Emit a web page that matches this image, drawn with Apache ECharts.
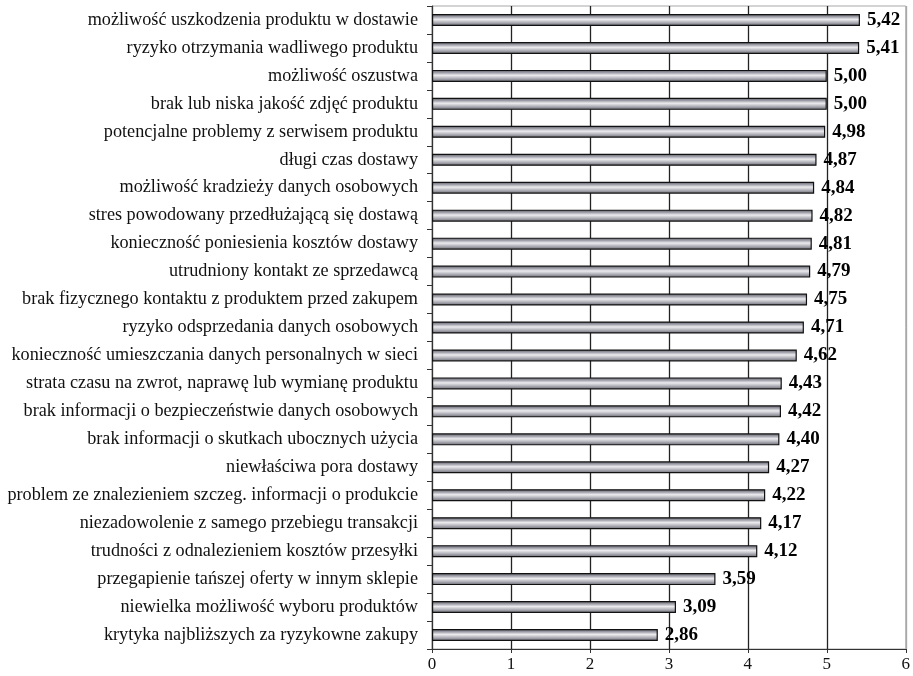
<!DOCTYPE html>
<html><head><meta charset="utf-8">
<script src="https://cdn.jsdelivr.net/npm/echarts@6/dist/echarts.min.js"></script>
<style>html,body{margin:0;padding:0;background:#fff}#c{width:913px;height:676px}</style>
</head><body><div id="c"></div>
<script>
const categories = [
  "możliwość uszkodzenia produktu w dostawie",
  "ryzyko otrzymania wadliwego produktu",
  "możliwość oszustwa",
  "brak lub niska jakość zdjęć produktu",
  "potencjalne problemy z serwisem produktu",
  "długi czas dostawy",
  "możliwość kradzieży danych osobowych",
  "stres powodowany przedłużającą się dostawą",
  "konieczność poniesienia kosztów dostawy",
  "utrudniony kontakt ze sprzedawcą",
  "brak fizycznego kontaktu z produktem przed zakupem",
  "ryzyko odsprzedania danych osobowych",
  "konieczność umieszczania danych personalnych w sieci",
  "strata czasu na zwrot, naprawę lub wymianę produktu",
  "brak informacji o bezpieczeństwie danych osobowych",
  "brak informacji o skutkach ubocznych użycia",
  "niewłaściwa pora dostawy",
  "problem ze znalezieniem szczeg. informacji o produkcie",
  "niezadowolenie z samego przebiegu transakcji",
  "trudności z odnalezieniem kosztów przesyłki",
  "przegapienie tańszej oferty w innym sklepie",
  "niewielka możliwość wyboru produktów",
  "krytyka najbliższych za ryzykowne zakupy"
];
const values = [5.42,5.41,5.00,5.00,4.98,4.87,4.84,4.82,4.81,4.79,4.75,4.71,4.62,4.43,4.42,4.40,4.27,4.22,4.17,4.12,3.59,3.09,2.86];
const xTicks = [0,1,2,3,4,5,6];

const serif = '"Liberation Serif","DejaVu Serif",serif';
const chart = echarts.init(document.getElementById('c'));
chart.setOption({
  animation:false,
  grid:{left:432,right:7,top:6,bottom:27,show:true,borderColor:'#a8a8a8',borderWidth:1,backgroundColor:'transparent'},
  xAxis:{type:'value',min:xTicks[0],max:xTicks[xTicks.length-1],interval:1,
    axisLine:{show:true,lineStyle:{color:'#333',width:1}},
    axisTick:{show:true,length:4,lineStyle:{color:'#333'}},
    axisLabel:{color:'#111',fontFamily:serif,fontSize:17,margin:7,formatter:v=>String(v)},
    splitLine:{show:true,lineStyle:{color:['#222','#222','#222','#222','#222','#222','#a8a8a8'],width:1.3}}
  },
  yAxis:{type:'category',data:categories,inverse:true,
    axisLine:{show:true,lineStyle:{color:'#333',width:1}},
    axisTick:{show:true,length:5,lineStyle:{color:'#333'}},
    axisLabel:{color:'#111',fontFamily:serif,fontSize:18.2,margin:14,padding:[3,0,0,0]}
  },
  series:[{type:'bar',data:values,barWidth:12,
    itemStyle:{borderColor:'#111',borderWidth:1.2,
      color:new echarts.graphic.LinearGradient(0,0,0,1,[
        {offset:0,color:'#585862'},{offset:0.25,color:'#a4a4ae'},{offset:0.45,color:'#ececef'},
        {offset:0.7,color:'#b2b2ba'},{offset:1,color:'#666671'}])},
    label:{show:true,position:'right',distance:7,color:'#000',fontFamily:serif,fontWeight:'bold',fontSize:19,
      padding:[3,0,0,0],formatter:p=>p.value.toFixed(2).replace('.',',')}
  }]
});
</script></body></html>
